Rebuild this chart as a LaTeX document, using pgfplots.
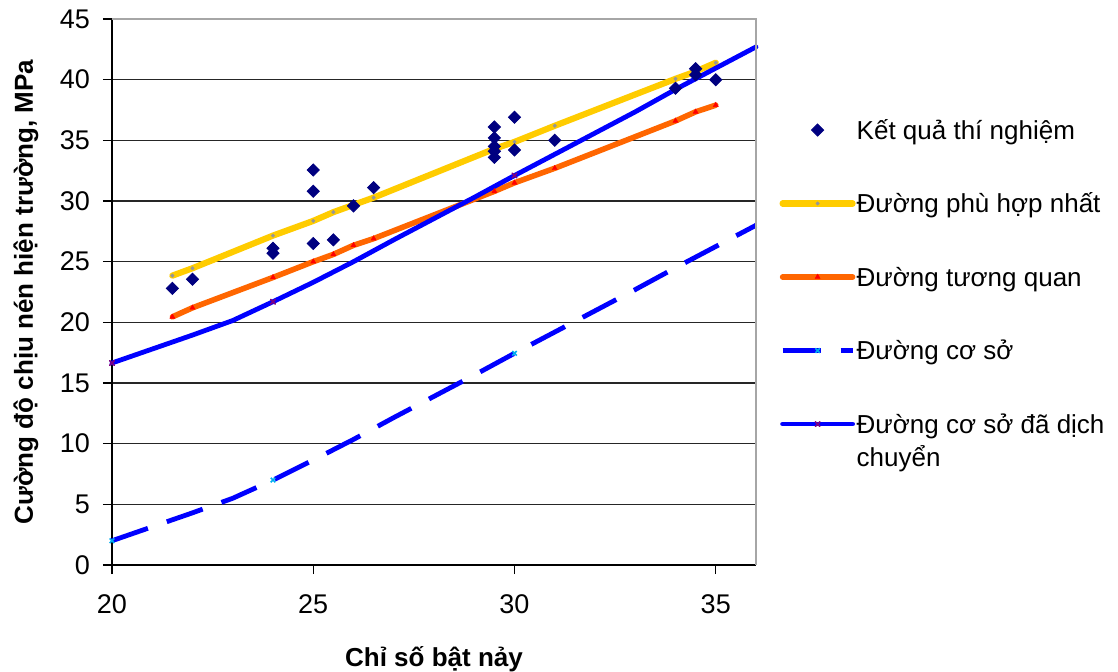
\documentclass[border=0pt]{standalone}
\usepackage{fontspec}
\setmainfont{Liberation Sans}
\usepackage{pgfplots}
\pgfplotsset{compat=1.18}

\definecolor{navy}{RGB}{0,0,128}
\definecolor{fitY}{RGB}{255,204,0}
\definecolor{corrO}{RGB}{255,102,0}
\definecolor{baseB}{RGB}{0,0,255}
\definecolor{markP}{RGB}{128,0,128}
\definecolor{markG}{RGB}{150,150,150}

\begin{document}
\begin{tikzpicture}
\useasboundingbox (-56pt,-53pt) rectangle (503pt,282.5pt);
\begin{axis}[
    scale only axis,
    width=322pt, height=273pt,
    xmin=20, xmax=36, ymin=0, ymax=45,
    xtick={20,25,30,35}, ytick={0,5,...,45},
    axis x line*=bottom, axis y line*=left,
    axis line style={black, line width=0.8pt},
    tick align=outside, major tick length=4.5pt,
    tick style={black, line width=0.6pt},
    ymajorgrids,
    major grid style={black!85, line width=0.6pt},
    /pgf/number format/assume math mode=true,
    ticklabel style={font=\fontsize{13.5}{16}\selectfont},
    yticklabel style={xshift=-3pt},
    xticklabel style={yshift=-7pt},
    xlabel={Chỉ số bật nảy},
    ylabel={Cường độ chịu nén hiện trường, MPa},
    label style={font=\bfseries\fontsize{13}{15}\selectfont},
    xlabel style={at={(axis description cs:0.5,-0.185)}, anchor=base},
    ylabel style={at={(axis description cs:-0.1227,0.5)}, anchor=base},
    clip=false,
    legend style={at={(1.0365,0.815)}, anchor=north west, draw=none, fill=none,
        inner sep=0pt, outer sep=0pt, column sep=0.5pt, row sep=26.75pt,
        font=\fontsize{13}{16.5}\selectfont,
        nodes={inner sep=0pt, text height=9.5pt, text depth=0.5pt}},
    legend cell align=left,
    legend image code/.code={\draw[#1, mark indices={2}] plot coordinates {(0pt,0pt) (17.5pt,0pt) (35pt,0pt)};},
]
% legend image for test results (points drawn last, on top)
\addlegendimage{only marks, mark=square*, mark size=2.15pt, mark options={rotate=45, fill=navy, draw=navy}}
\addlegendentry{Kết quả thí nghiệm}

% best fit line
\addplot[fitY, line width=3.1pt, line cap=round, line join=round,
    mark=*, mark size=0.9pt, mark options={fill=markG, draw=markG, line width=0.2pt}] coordinates {
    (21.5,23.85) (22,24.46) (24,27.15) (25,28.36) (25.5,29.08) (26,29.68) (26.5,30.28)
    (29.5,34.3) (30,34.87) (31,36.2) (34,40.07) (34.5,40.67) (35,41.4)
};
\addlegendentry{Đường phù hợp nhất}

% correlation line
\addplot[corrO, line width=2.8pt, line cap=round, line join=round,
    mark=triangle*, mark size=1.5pt, mark options={fill=red, draw=red, line width=0.2pt}] coordinates {
    (21.5,20.45) (22,21.2) (24,23.7) (25,25.0) (25.5,25.6) (26,26.35) (26.5,26.9)
    (29.5,30.8) (30,31.5) (31,32.7) (34,36.6) (34.5,37.35) (35,37.9)
};
\addlegendentry{Đường tương quan}

% base line (dashed)
\addplot[baseB, line width=2.4pt, dash pattern=on 19pt off 10pt,
    mark=x, mark indices={1,5,11}, mark size=1.6pt, mark options={solid, draw=cyan, line width=0.8pt}] coordinates {
    (20,2.0) (21,3.15) (22,4.3) (23,5.5) (24,7.0) (25,8.65) (26,10.35) (27,12.15) (28,13.9)
    (29,15.65) (30,17.45) (31,19.2) (32,20.95) (33,22.7) (34,24.5) (35,26.25) (36,28.0)
};
\addlegendentry{Đường cơ sở}

% shifted base line
\addplot[baseB, line width=2.4pt, line cap=round, line join=round,
    mark=x, mark indices={1,5,11}, mark size=1.6pt, mark options={solid, draw=markP, line width=0.8pt}] coordinates {
    (20,16.65) (21,17.8) (22,18.95) (23,20.15) (24,21.7) (25,23.3) (26,25.0) (27,26.8) (28,28.55)
    (29,30.3) (30,32.1) (31,33.85) (32,35.6) (33,37.35) (34,39.2) (35,40.95) (36,42.7)
};
\addlegendentry{\parbox[t]{170pt}{Đường cơ sở đã dịch\\chuyển}}

% test results
\addplot[only marks, forget plot, mark=square*, mark size=2.15pt,
    mark options={rotate=45, fill=navy, draw=navy}] coordinates {
    (21.5,22.8) (22,23.55) (24,26.1) (24,25.7) (25,32.55) (25,30.8) (25,26.5) (25.5,26.8)
    (26,29.6) (26.5,31.1) (29.5,36.1) (29.5,35.2) (29.5,34.5) (29.5,34.1) (29.5,33.6)
    (30,36.9) (30,34.2) (31,35.0) (34,39.3) (34.5,40.9) (34.5,40.4) (35,40.0)
};

\draw[gray!70, line width=0.8pt] (rel axis cs:0,1) -- (rel axis cs:1,1) -- (rel axis cs:1,0);
\end{axis}
\end{tikzpicture}
\end{document}
